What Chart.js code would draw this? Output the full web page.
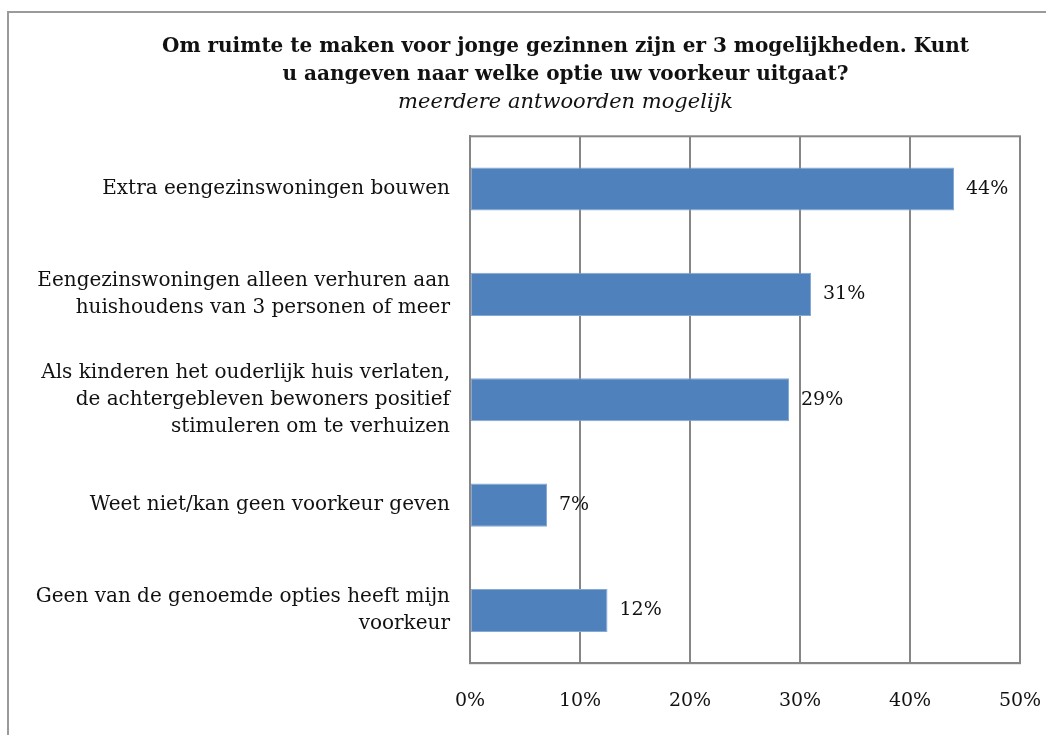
<!DOCTYPE html>
<html>
<head>
<meta charset="utf-8">
<script src="https://cdn.jsdelivr.net/npm/chart.js@4/dist/chart.umd.min.js"></script>
<style>
  html, body { margin: 0; padding: 0; background: #fff; overflow: hidden; }
  #box {
    position: absolute; left: 7px; top: 11px;
    width: 1114px; height: 740px;
    border: 2px solid #9a9a9a;
  }
</style>
</head>
<body>
<div id="box"><canvas id="chart" width="1114" height="740"></canvas></div>
<script>
const titleLines = [
  "Om ruimte te maken voor jonge gezinnen zijn er 3 mogelijkheden. Kunt",
  "u aangeven naar welke optie uw voorkeur uitgaat?"
];
const subtitleText = "meerdere antwoorden mogelijk";

const categories = [
  ["Extra eengezinswoningen bouwen"],
  ["Eengezinswoningen alleen verhuren aan", "huishoudens van 3 personen of meer"],
  ["Als kinderen het ouderlijk huis verlaten,", "de achtergebleven bewoners positief", "stimuleren om te verhuizen"],
  ["Weet niet/kan geen voorkeur geven"],
  ["Geen van de genoemde opties heeft mijn", "voorkeur"]
];
const percentages = [44, 31, 29, 7, 12.5];
const valueLabels = ["44%", "31%", "29%", "7%", "12%"];
const xTicks = [0, 10, 20, 30, 40, 50];

const serif = "'DejaVu Serif', 'Liberation Serif', serif";

// titel iets naar rechts schuiven (in het origineel staat hij niet midden op het canvas)
const shiftTitles = {
  id: "shiftTitles",
  afterLayout(chart) {
    chart.boxes.forEach(b => {
      if (b.position === "top" && b.options && b.options.text !== undefined) {
        b.left += 51;
        b.right += 51;
      }
    });
  }
};

// rand rond het plotgebied + waardelabels achter de balken
const extras = {
  id: "extras",
  afterDatasetsDraw(chart) {
    const { ctx, chartArea } = chart;
    ctx.save();
    ctx.strokeStyle = "#868686";
    ctx.lineWidth = 2;
    ctx.strokeRect(chartArea.left, chartArea.top, chartArea.right - chartArea.left, chartArea.bottom - chartArea.top);
    ctx.fillStyle = "#111";
    ctx.font = "19px " + serif;
    ctx.textBaseline = "middle";
    ctx.textAlign = "left";
    chart.getDatasetMeta(0).data.forEach((bar, i) => {
      ctx.fillText(valueLabels[i], bar.x + 12, bar.y);
    });
    ctx.restore();
  }
};

new Chart(document.getElementById("chart"), {
  type: "bar",
  data: {
    labels: categories,
    datasets: [{
      data: percentages,
      backgroundColor: "#4f81bd",
      borderColor: "#86a8d4",
      borderWidth: 1,
      borderSkipped: false,
      barPercentage: 0.41,
      categoryPercentage: 1
    }]
  },
  options: {
    indexAxis: "y",
    responsive: false,
    animation: false,
    layout: { padding: { left: 0, right: 103, top: 0, bottom: 15 } },
    plugins: {
      legend: { display: false },
      tooltip: { enabled: false },
      title: {
        display: true,
        text: titleLines,
        color: "#111",
        font: { family: serif, size: 20, weight: "bold", lineHeight: 1.4 },
        padding: { top: 20, bottom: 0 }
      },
      subtitle: {
        display: true,
        text: subtitleText,
        color: "#111",
        font: { family: serif, size: 21, style: "italic", lineHeight: 1.3 },
        padding: { top: 0, bottom: 20 }
      }
    },
    scales: {
      x: {
        min: 0,
        max: 50,
        afterBuildTicks(scale) { scale.ticks = xTicks.map(v => ({ value: v })); },
        grid: { color: "#868686", lineWidth: 2, drawTicks: false },
        border: { display: true, color: "#868686", width: 2 },
        ticks: {
          padding: 26,
          color: "#111",
          font: { family: serif, size: 19 },
          callback: v => v + "%"
        }
      },
      y: {
        afterFit(scale) { scale.width = 461; },
        grid: { display: false, drawTicks: false },
        border: { display: true, color: "#868686", width: 2 },
        ticks: {
          padding: 20,
          color: "#111",
          font: { family: serif, size: 20, lineHeight: 1.35 }
        }
      }
    }
  },
  plugins: [shiftTitles, extras]
});
</script>
</body>
</html>
